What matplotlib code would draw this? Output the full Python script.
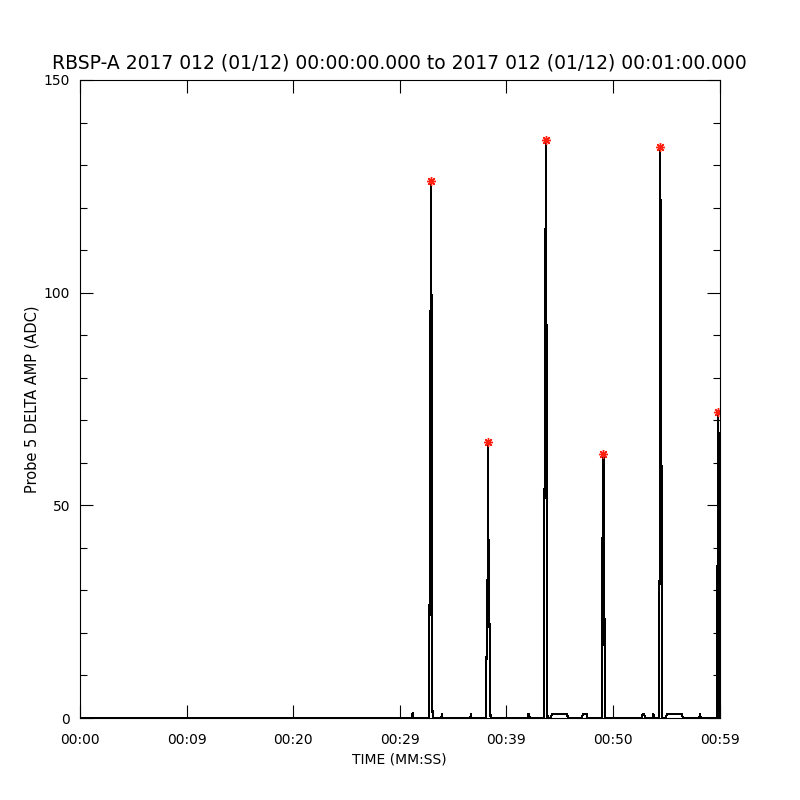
import matplotlib
matplotlib.use("Agg")
import matplotlib.pyplot as plt
from matplotlib.ticker import MultipleLocator, FixedLocator

plt.rcParams['font.family'] = ['DejaVu Sans']

# ---- data (seconds since 00:00:00, ADC) ----
times = [0.0, 31.14, 31.20, 31.28,
         32.74, 32.76, 32.86, 32.90, 32.93, 32.96, 33.03, 33.05, 33.09,
         33.90, 33.95, 34.01,
         36.62, 36.68, 36.74,
         38.07, 38.09, 38.20, 38.26, 38.30, 38.33, 38.40, 38.48, 38.52,
         42.02, 42.05, 42.15, 42.18,
         43.54, 43.55, 43.65, 43.71, 43.76, 43.81, 43.84, 43.86,
         44.15, 44.30, 45.66, 45.80,
         47.12, 47.16, 47.52, 47.56,
         48.96, 48.98, 49.01, 49.06, 49.11, 49.13, 49.20, 49.22,
         52.75, 52.78, 52.95, 52.98,
         53.74, 53.80, 53.86,
         54.31, 54.32, 54.38, 54.42, 54.45, 54.48, 54.60, 54.64,
         54.95, 55.10, 56.45, 56.57,
         58.11, 58.17, 58.23,
         59.73, 59.74, 59.80, 59.83, 59.89, 59.93, 59.97, 59.99, 60.0]
values = [0.0, 0.0, 1.2, 0.0,
          0.0, 3.4, 75.6, 106.7, 126.3, 106.7, 75.6, 3.4, 0.0,
          0.0, 1.0, 0.0,
          0.0, 1.0, 0.0,
          0.0, 3.8, 27.5, 36.4, 64.9, 36.4, 27.5, 3.8, 0.0,
          0.0, 1.0, 1.0, 0.0,
          0.0, 32.9, 100.0, 136.0, 100.0, 32.9, 22.2, 0.0,
          0.0, 1.0, 1.0, 0.0,
          0.0, 1.0, 1.0, 0.0,
          0.0, 1.3, 36.7, 58.4, 62.1, 58.4, 36.7, 0.0,
          0.0, 1.0, 1.0, 0.0,
          0.0, 1.0, 0.0,
          0.0, 21.4, 34.2, 101.1, 134.2, 101.1, 34.2, 0.0,
          0.0, 1.0, 1.0, 0.0,
          0.0, 1.0, 0.0,
          0.0, 10.1, 21.0, 56.8, 71.9, 56.8, 21.0, 0.0, 0.0]

peak_times = [32.93, 38.30, 43.71, 49.11, 54.42, 59.89]
peak_values = [126.3, 64.9, 136.0, 62.1, 134.2, 71.9]

xtick_pos = [0, 10, 20, 30, 40, 50, 60]
xtick_labels = ['00:00', '00:09', '00:20', '00:29', '00:39', '00:50', '00:59']
ytick_pos = [0, 50, 100, 150]

title = 'RBSP-A 2017 012 (01/12) 00:00:00.000 to 2017 012 (01/12) 00:01:00.000'

fig = plt.figure(figsize=(8, 8), dpi=100)
ax = fig.add_axes([0.1, 0.1025, 0.7994, 0.7975])

ax.plot(times, values, color='black', lw=0.75, antialiased=False)
ax.plot(peak_times, peak_values, linestyle='none', marker=(8, 2, 0),
        markersize=6.5, markeredgewidth=1.0, color='#ff2010')

ax.set_xlim(0, 60)
ax.set_ylim(0, 150)
ax.xaxis.set_major_locator(FixedLocator(xtick_pos))
ax.set_xticklabels(xtick_labels)
ax.yaxis.set_major_locator(FixedLocator(ytick_pos))
ax.yaxis.set_minor_locator(MultipleLocator(10))

ax.tick_params(axis='both', which='major', direction='in', length=9.4,
               width=0.8, top=True, right=True, labelsize=10)
ax.tick_params(axis='y', which='minor', direction='in', length=4.7,
               width=0.8, left=True, right=True)
ax.tick_params(axis='x', which='major', pad=11)
ax.tick_params(axis='y', which='major', pad=7)
for s in ax.spines.values():
    s.set_linewidth(0.8)

ax.set_title(title, fontsize=13.5, pad=8)
ax.set_xlabel('TIME (MM:SS)', fontsize=10, labelpad=4)
ax.set_ylabel('Probe 5 DELTA AMP (ADC)', fontsize=10.5, labelpad=3)

fig.savefig('out.png', dpi=100)
